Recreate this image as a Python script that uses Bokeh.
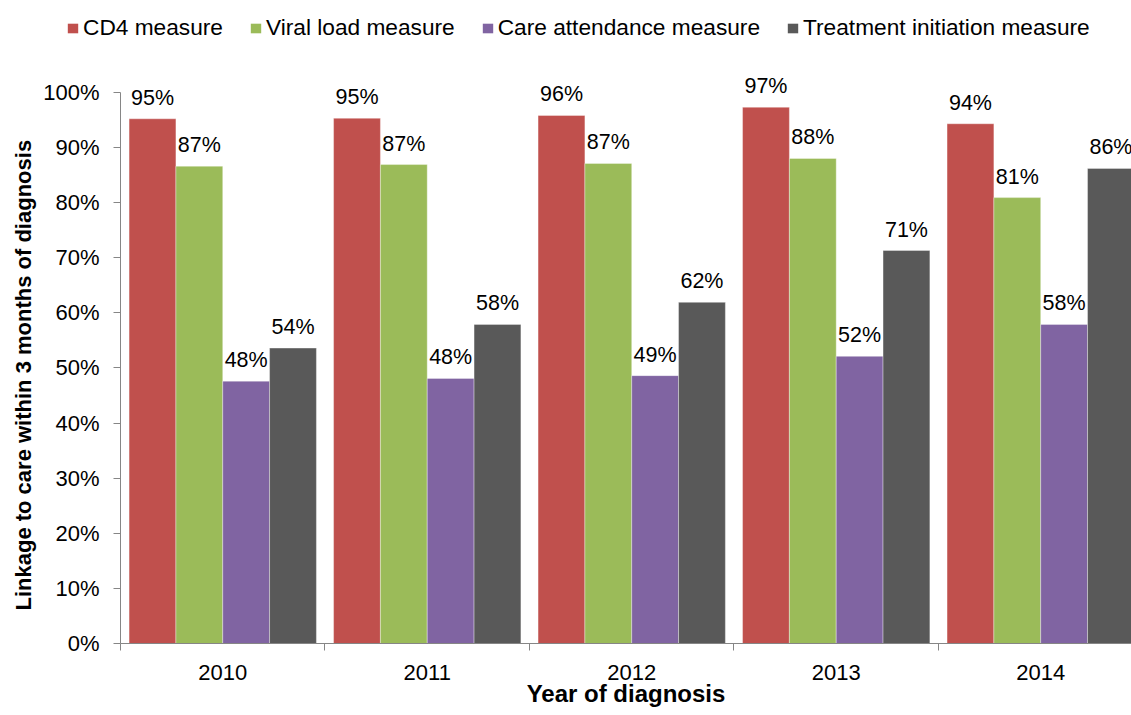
import numpy as np
from bokeh.plotting import figure
from bokeh.layouts import column
from bokeh.models import (ColumnDataSource, FixedTicker, PrintfTickFormatter,
                          Legend, LegendItem, Range1d, Title)
from bokeh.embed import file_html
from bokeh.resources import INLINE
from bokeh.core.properties import value

# Linkage to care within 3 months, by year of diagnosis and measure (%)
years = ["2010", "2011", "2012", "2013", "2014"]
measures = ["CD4 measure", "Viral load measure", "Care attendance measure",
            "Treatment initiation measure"]
cd4 = [95.2, 95.3, 95.8, 97.3, 94.3]
viral_load = [86.6, 86.9, 87.1, 88.0, 80.9]
care_attendance = [47.6, 48.1, 48.6, 52.1, 57.9]
treatment_initiation = [53.6, 57.9, 61.9, 71.3, 86.2]
series = [cd4, viral_load, care_attendance, treatment_initiation]
colors = ["#C0504D", "#9BBB59", "#8064A2", "#595959"]

FONT = "Liberation Sans"
AXIS_GREY = "#868686"
bar_w = 0.229

# ---- legend strip across the top ----
leg = figure(width=1131, height=45, output_backend="svg", toolbar_location=None,
             x_axis_type=None, y_axis_type=None, x_range=(0, 1), y_range=(0, 1),
             min_border=0, frame_align=False)
leg.outline_line_color = None
leg.xgrid.grid_line_color = None
leg.ygrid.grid_line_color = None
items = []
for name, col in zip(measures, colors):
    # a single off-range bar so the legend has a glyph to sample
    r = leg.vbar(x=[-5], top=[-5], width=0.1, fill_color=col, line_color=None)
    items.append(LegendItem(label=name, renderers=[r]))
legend = Legend(items=items, orientation="horizontal", location=(66, 4),
                glyph_width=13, glyph_height=12, label_standoff=4, spacing=26,
                padding=0, margin=0, border_line_color=None,
                background_fill_alpha=0, label_text_font=FONT,
                label_text_font_size="22.7px", label_text_color="black")
leg.add_layout(legend, "center")

# ---- main bar chart ----
p = figure(width=1131, height=670, output_backend="svg", toolbar_location=None,
           x_range=Range1d(0, 4.944), y_range=Range1d(0, 108.5),
           min_border_left=120, min_border_right=0, min_border_top=0,
           min_border_bottom=72, frame_align=False)
p.outline_line_color = None
p.xgrid.grid_line_color = None
p.ygrid.grid_line_color = None

group_x = np.arange(len(years)) + 0.5
for k, (vals, col) in enumerate(zip(series, colors)):
    xs = group_x + (k - 1.5) * bar_w
    src = ColumnDataSource(dict(x=xs, top=vals,
                                lab=["%d%%" % round(v) for v in vals]))
    p.vbar(x="x", top="top", width=bar_w, bottom=0, source=src,
           fill_color=col, line_color="white", line_alpha=0.35, line_width=1)
    p.text(x="x", y="top", text="lab", source=src, text_align="center",
           text_baseline="alphabetic", y_offset=-21,
           text_font=value(FONT), text_font_size="21.5px", text_color="black")

# y axis
ya = p.yaxis[0]
ya.ticker = FixedTicker(ticks=list(range(0, 101, 10)))
ya.formatter = PrintfTickFormatter(format="%d%%")
ya.bounds = (0, 100)
ya.axis_line_color = AXIS_GREY
ya.major_tick_line_color = AXIS_GREY
ya.major_tick_out = 7
ya.major_tick_in = 0
ya.minor_tick_line_color = None
ya.major_label_standoff = 14
ya.major_label_text_font = FONT
ya.major_label_text_font_size = "22px"
ya.major_label_text_color = "black"

# y axis title, starting a little above the bottom of the frame
p.add_layout(Title(text="Linkage to care within 3 months of diagnosis",
                   align="left", offset=33, standoff=9,
                   text_font=FONT, text_font_style="bold",
                   text_font_size="22px", text_color="black"), "left")

# x axis: year labels at group centres, tick marks at group boundaries
xa = p.xaxis[0]
xa.ticker = FixedTicker(ticks=list(group_x), minor_ticks=list(range(0, 6)))
xa.major_label_overrides = {float(c): y for c, y in zip(group_x, years)}
xa.axis_line_color = AXIS_GREY
xa.major_tick_line_color = None
xa.major_tick_out = 0
xa.major_tick_in = 0
xa.minor_tick_line_color = AXIS_GREY
xa.minor_tick_out = 7
xa.minor_tick_in = 0
xa.major_label_standoff = 14
xa.major_label_text_font = FONT
xa.major_label_text_font_size = "22px"
xa.major_label_text_color = "black"
xa.axis_label = "Year of diagnosis"
xa.axis_label_text_font = FONT
xa.axis_label_text_font_style = "bold"
xa.axis_label_text_font_size = "24px"
xa.axis_label_text_color = "black"
xa.axis_label_standoff = -3

open("out.html", "w").write(file_html(column(leg, p, spacing=0), INLINE))
